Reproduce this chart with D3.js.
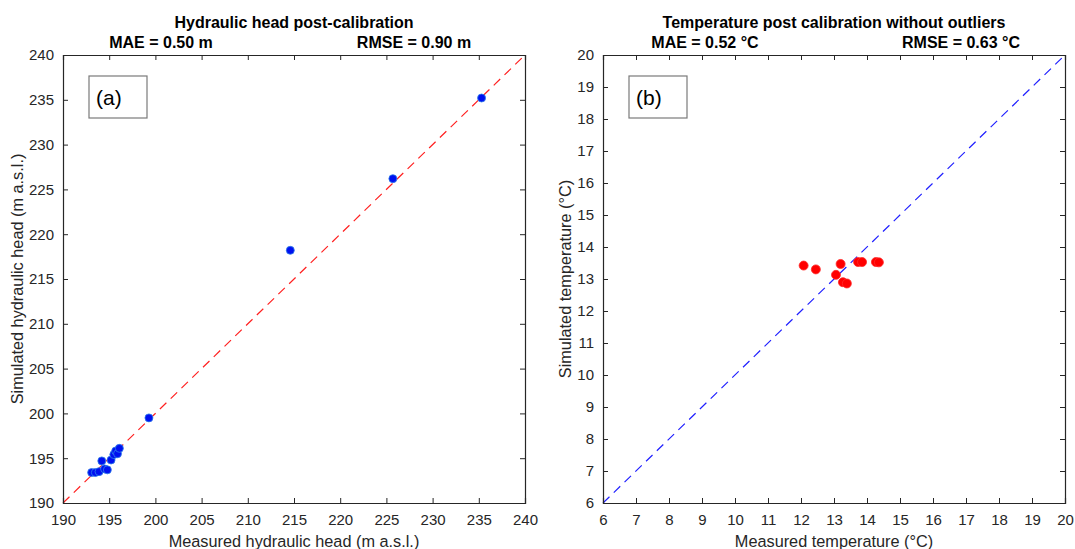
<!DOCTYPE html>
<html>
<head>
<meta charset="utf-8">
<script src="https://cdn.jsdelivr.net/npm/d3@7"></script>
<style>
  body { margin: 0; background: #fff; }
  svg { font-family: "Liberation Sans", Arial, sans-serif; }
  .tick text { fill: #262626; font-size: 15px; }
  .tick line, .domain { stroke: #262626; }
  .title { font-weight: bold; font-size: 16px; fill: #000; text-anchor: middle; }
  .axis-label { font-size: 16.3px; fill: #262626; text-anchor: middle; }
</style>
</head>
<body>
<svg width="1075" height="549"></svg>
<script>
  const headMeasured = [193.1, 193.5, 193.9, 194.2, 194.5, 194.8, 195.2, 195.5, 195.7, 195.9, 196.1, 199.3, 214.6, 225.7, 235.3];
  const headSimulated = [193.4, 193.4, 193.5, 194.7, 193.8, 193.7, 194.8, 195.4, 195.8, 195.5, 196.1, 199.5, 218.2, 226.2, 235.2];
  const headTicks = [190, 195, 200, 205, 210, 215, 220, 225, 230, 235, 240];

  const tempMeasured = [12.08, 12.45, 13.2, 13.06, 13.27, 13.39, 13.73, 13.85, 14.27, 14.36];
  const tempSimulated = [13.42, 13.3, 13.47, 13.13, 12.9, 12.86, 13.53, 13.53, 13.53, 13.52];
  const tempTicks = [6, 7, 8, 9, 10, 11, 12, 13, 14, 15, 16, 17, 18, 19, 20];

  const svg = d3.select('svg');

  const panel = opts => {
    const { left, right, top, bottom, domain, ticks, xs, ys, dot, line } = opts;
    const innerWidth = right - left;
    const innerHeight = bottom - top;

    const xScale = d3.scaleLinear().domain(domain).range([0, innerWidth]);
    const yScale = d3.scaleLinear().domain(domain).range([innerHeight, 0]);

    const g = svg.append('g')
      .attr('transform', `translate(${left},${top})`);

    // 1:1 line
    g.append('line')
      .attr('x1', xScale(domain[0])).attr('y1', yScale(domain[0]))
      .attr('x2', xScale(domain[1])).attr('y2', yScale(domain[1]))
      .attr('stroke', line)
      .attr('stroke-width', 1.2)
      .attr('stroke-dasharray', '9,6');

    g.selectAll('circle').data(xs).enter().append('circle')
      .attr('cx', (d, i) => xScale(xs[i]))
      .attr('cy', (d, i) => yScale(ys[i]))
      .attr('r', dot.r)
      .attr('fill', dot.fill)
      .attr('stroke', dot.stroke)
      .attr('stroke-width', 0.8);

    const xAxisG = g.append('g')
      .attr('transform', `translate(0,${innerHeight})`)
      .call(d3.axisBottom(xScale).tickValues(ticks).tickSize(-5).tickPadding(9));
    g.append('g')
      .call(d3.axisTop(xScale).tickValues(ticks).tickSize(-5).tickFormat(''));
    g.append('g')
      .call(d3.axisLeft(yScale).tickValues(ticks).tickSize(-5).tickPadding(9));
    g.append('g')
      .attr('transform', `translate(${innerWidth},0)`)
      .call(d3.axisRight(yScale).tickValues(ticks).tickSize(-5).tickFormat(''));

    g.selectAll('.domain').attr('stroke-width', 1.2);
    xAxisG.selectAll('.tick text').attr('dy', '0.85em');

    // titles
    g.append('text').attr('class', 'title')
      .attr('x', innerWidth / 2).attr('y', -27)
      .text(opts.title);
    g.append('text').attr('class', 'title')
      .attr('x', opts.maeX).attr('y', -7)
      .text(opts.mae);
    g.append('text').attr('class', 'title')
      .attr('x', opts.rmseX).attr('y', -7)
      .text(opts.rmse);

    g.append('text').attr('class', 'axis-label')
      .attr('x', innerWidth / 2).attr('y', innerHeight + 44)
      .text(opts.xLabel);
    g.append('text').attr('class', 'axis-label')
      .attr('transform', `rotate(-90)`)
      .attr('x', -innerHeight / 2).attr('y', opts.yLabelOffset)
      .text(opts.yLabel);

    // panel letter box
    g.append('rect')
      .attr('x', 26).attr('y', 21).attr('width', 58).attr('height', 42)
      .attr('fill', '#fff').attr('stroke', '#7a7a7a').attr('stroke-width', 1.2);
    g.append('text')
      .attr('x', 33).attr('y', 50)
      .attr('font-size', 21).attr('fill', '#000')
      .text(opts.letter);
  };

  panel({
    left: 63, right: 525, top: 55, bottom: 503,
    domain: [190, 240], ticks: headTicks,
    xs: headMeasured, ys: headSimulated,
    dot: { r: 4, fill: '#0010f0', stroke: '#2f7fe8' },
    line: '#ff2020',
    title: 'Hydraulic head post-calibration',
    mae: 'MAE = 0.50 m', maeX: 98,
    rmse: 'RMSE = 0.90 m', rmseX: 351,
    xLabel: 'Measured hydraulic head (m a.s.l.)',
    yLabel: 'Simulated hydraulic head (m a.s.l.)', yLabelOffset: -40,
    letter: '(a)'
  });

  panel({
    left: 603, right: 1065, top: 55, bottom: 503,
    domain: [6, 20], ticks: tempTicks,
    xs: tempMeasured, ys: tempSimulated,
    dot: { r: 4.5, fill: '#ff0000', stroke: '#ff2a2a' },
    line: '#2020ff',
    title: 'Temperature post calibration without outliers',
    mae: 'MAE = 0.52 °C', maeX: 102,
    rmse: 'RMSE = 0.63 °C', rmseX: 358,
    xLabel: 'Measured temperature (°C)',
    yLabel: 'Simulated temperature (°C)', yLabelOffset: -32,
    letter: '(b)'
  });
</script>
</body>
</html>
